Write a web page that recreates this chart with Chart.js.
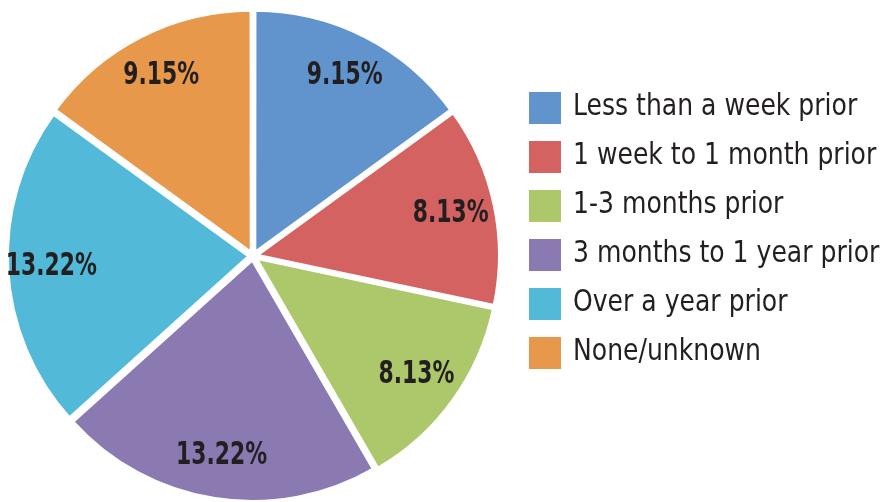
<!DOCTYPE html>
<html>
<head>
<meta charset="utf-8">
<script src="https://cdn.jsdelivr.net/npm/chart.js@4/dist/chart.umd.min.js"></script>
<style>
  html, body { margin: 0; padding: 0; background: #fff; overflow: hidden; }
  #chart { display: block; }
</style>
</head>
<body>
<!-- a little taller than the window: the bottom of the pie is cut off in the original -->
<canvas id="chart" width="885" height="507"></canvas>
<script>
// values (percent of respondents)
const categories = ['Less than a week prior', '1 week to 1 month prior', '1-3 months prior',
                    '3 months to 1 year prior', 'Over a year prior', 'None/unknown'];
const percents = [9.15, 8.13, 8.13, 13.22, 13.22, 9.15];
const colors = ['#6194cc', '#d46261', '#adc86b', '#8b79b2', '#53b9d8', '#e8984b'];

const textColor = '#231f20';
const narrow = '"Liberation Sans Narrow", "DejaVu Sans Condensed", "Arial Narrow", Roboto, sans-serif';

// draw text squeezed horizontally (the original uses a condensed face)
function squeezedText(ctx, str, x, y, sx) {
  ctx.save();
  ctx.translate(x, y);
  ctx.scale(sx, 1);
  ctx.fillText(str, 0, 0);
  ctx.restore();
}

// percent labels inside each slice
const sliceLabels = {
  id: 'sliceLabels',
  afterDatasetsDraw(chart) {
    const ctx = chart.ctx;
    const meta = chart.getDatasetMeta(0);
    ctx.save();
    ctx.font = 'bold 32px ' + narrow;
    ctx.fillStyle = textColor;
    ctx.textAlign = 'center';
    ctx.textBaseline = 'middle';
    meta.data.forEach(function (arc, i) {
      const p = arc.getProps(['x', 'y', 'startAngle', 'endAngle', 'outerRadius'], true);
      const mid = (p.startAngle + p.endAngle) / 2;
      const r = p.outerRadius * 0.82 + arc.options.offset / 4;
      squeezedText(ctx, percents[i].toFixed(2) + '%', p.x + Math.cos(mid) * r, p.y + Math.sin(mid) * r, 0.76);
    });
    ctx.restore();
  }
};

// legend on the right, square swatches
const sideLegend = {
  id: 'sideLegend',
  afterDraw(chart) {
    const ctx = chart.ctx;
    const box = 32, left = 529, top = 92, step = 49;
    ctx.save();
    ctx.font = '30px ' + narrow;
    ctx.textBaseline = 'middle';
    ctx.textAlign = 'left';
    categories.forEach(function (name, i) {
      const y = top + i * step;
      ctx.fillStyle = colors[i];
      ctx.fillRect(left, y, box, box);
      ctx.fillStyle = textColor;
      squeezedText(ctx, name, left + box + 12, y + box / 2 - 1, 0.93);
    });
    ctx.restore();
  }
};

new Chart(document.getElementById('chart'), {
  type: 'pie',
  data: {
    labels: categories,
    datasets: [{
      data: percents,
      backgroundColor: colors,
      borderColor: '#ffffff',
      borderWidth: 3,
      offset: 16
    }]
  },
  options: {
    responsive: false,
    animation: false,
    layout: { padding: { left: 2, right: 381, top: 5, bottom: 0 } },
    plugins: {
      legend: { display: false },
      tooltip: { enabled: false }
    }
  },
  plugins: [sliceLabels, sideLegend]
});
</script>
</body>
</html>
